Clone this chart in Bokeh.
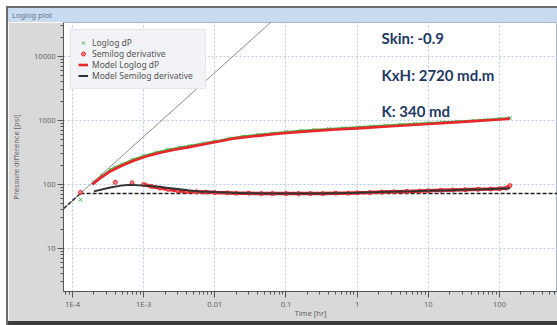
from bokeh.plotting import figure
from bokeh.models import (Range1d, FixedTicker, Legend, LegendItem, Label, Div, Spacer)
from bokeh.layouts import row, column
from bokeh.embed import file_html
from bokeh.resources import INLINE

# ---------------- data ----------------
t_dp = [1.3e-4, 2.0e-4, 2.6e-4, 3.4e-4, 4.0e-4, 5.0e-4, 7.0e-4, 1.0e-3, 1.5e-3, 2.2e-3,
        3.2e-3, 4.5e-3, 7e-3, 0.01, 0.016, 0.025, 0.04, 0.065, 0.1, 0.16,
        0.25, 0.4, 0.65, 1, 1.6, 2.5, 4, 6.5, 10, 16,
        25, 40, 65, 100, 140]
dp = [58, 108, 136, 170, 186, 208, 244, 280, 316, 348,
      378, 402, 440, 472, 525, 565, 598, 630, 660, 690,
      715, 738, 762, 782, 810, 835, 862, 890, 915, 940,
      965, 990, 1025, 1065, 1095]

t_der = [1.3e-4, 4.0e-4, 6.9e-4, 1.0e-3, 1.3e-3, 1.7e-3, 2.2e-3, 3e-3, 4e-3, 5.5e-3,
         7.5e-3, 0.01, 0.015, 0.02, 0.03, 0.045, 0.065, 0.1, 0.15, 0.22,
         0.33, 0.5, 0.75, 1, 1.5, 2.2, 3.3, 5, 7.5, 10,
         15, 22, 33, 50, 75, 100, 125, 140]
der = [75, 108, 106, 100, 93, 88, 84, 80, 78, 77,
       76, 75, 74, 73, 73, 72, 72, 72, 72, 72,
       72, 73, 73, 74, 75, 76, 77, 78, 79, 80,
       81, 82, 83, 84, 85, 86, 88, 96]

t_model = [1.9e-4, 2.5e-4, 3.4e-4, 5e-4, 7.2e-4, 1.1e-3, 1.7e-3, 2.8e-3, 4.2e-3, 8e-3,
           0.018, 0.04, 0.083, 0.2, 0.5, 1, 3, 10, 30, 100, 140]
p_model = [100, 128, 160, 198, 235, 275, 314, 352, 380, 438,
           520, 575, 625, 675, 722, 752, 815, 880, 950, 1035, 1065]

t_mder = [2.0e-4, 3.4e-4, 4.8e-4, 6.5e-4, 1.0e-3, 1.5e-3, 2.1e-3, 3e-3, 4.2e-3, 6e-3,
          0.01, 0.018, 0.029, 0.05, 0.076, 0.15, 0.3, 0.6, 1, 2,
          3, 6, 10, 20, 30, 60, 100, 140]
mder = [78, 90, 96, 99, 96, 93, 89, 85, 81, 78,
        76, 74, 73, 72.5, 72, 72, 72.5, 73.5, 74.5, 76,
        77, 78.5, 80, 81.5, 83, 84.5, 86, 87]

stab_level = 72
stab_t = [1.3e-4, 700]
wbs_coef = 5.6e5
wbs_t = [7.5e-5, 0.07]
wbs_t_dark = [7.5e-5, 1.3e-4]

x_ticks = [1e-4, 1e-3, 0.01, 0.1, 1, 10, 100]
x_tick_labels = ["1E-4", "1E-3", "0.01", "0.1", "1", "10", "100"]
y_ticks = [10, 100, 1000, 10000]
y_tick_labels = ["10", "100", "1000", "10000"]

annotations = ["Skin: -0.9", "KxH: 2720 md.m", "K: 340 md"]

# ---------------- figure ----------------
p = figure(frame_width=494, frame_height=269, x_axis_type="log", y_axis_type="log",
           x_range=Range1d(10 ** -4.126, 10 ** 2.815),
           y_range=Range1d(10 ** 0.328, 10 ** 4.531),
           output_backend="svg", toolbar_location=None,
           min_border_left=55, min_border_right=0, min_border_top=0, min_border_bottom=30,
           border_fill_color="#d9d9d9", background_fill_color="white",
           outline_line_color="#a9b6c4")
p.margin = 0

x_minor = [k * 10.0 ** e for e in range(-5, 3) for k in range(2, 10)]
y_minor = [k * 10.0 ** e for e in range(0, 5) for k in range(2, 10)]
p.xaxis.ticker = FixedTicker(ticks=x_ticks, minor_ticks=x_minor)
p.yaxis.ticker = FixedTicker(ticks=y_ticks, minor_ticks=y_minor)
p.xaxis.major_label_overrides = {v: s for v, s in zip(x_ticks, x_tick_labels)}
p.yaxis.major_label_overrides = {v: s for v, s in zip(y_ticks, y_tick_labels)}

for ax in (p.xaxis[0], p.yaxis[0]):
    ax.axis_line_color = "#555555"
    ax.major_tick_line_color = "#555555"
    ax.minor_tick_line_color = "#555555"
    ax.major_tick_in = 0
    ax.major_tick_out = 6
    ax.minor_tick_in = 0
    ax.minor_tick_out = 3
    ax.major_label_text_font = "Noto Sans"
    ax.major_label_text_font_size = "7.5px"
    ax.major_label_text_color = "#666666"
    ax.major_label_standoff = 2
    ax.axis_label_text_font = "Noto Sans"
    ax.axis_label_text_font_size = "7.5px"
    ax.axis_label_text_font_style = "normal"
    ax.axis_label_text_color = "#666666"

p.xaxis.major_label_standoff = 1
p.xaxis.axis_label = "Time [hr]"
p.xaxis.axis_label_standoff = -4
p.yaxis.axis_label = "Pressure difference [psi]"
p.yaxis.axis_label_standoff = 10

for g in (p.xgrid[0], p.ygrid[0]):
    g.grid_line_color = "#b9c8e6"
    g.grid_line_dash = "2 2"
    g.grid_line_width = 1

p.line(wbs_t, [wbs_coef * t for t in wbs_t], line_color="#8a8a8a", line_width=1)
p.line(wbs_t_dark, [wbs_coef * t for t in wbs_t_dark], line_color="#333333",
       line_width=1.5, line_dash="4 2")
p.line(stab_t, [stab_level, stab_level], line_color="#222222", line_width=1.5, line_dash="4 2")

p.line(t_dp[1:], dp[1:], line_color="#46b446", line_width=2)
r_dp = p.scatter(t_dp, dp, marker="x", size=5, line_color="#46b446", line_width=1)
r_model = p.line(t_model, p_model, line_color="#e8262b", line_width=2.6)

p.line(t_der[3:], der[3:], line_color="#e8262b", line_width=3.5)
r_der = p.scatter(t_der, der, marker="circle", size=4, line_color="#e8262b",
                  fill_color="#ef6a6a", fill_alpha=0.8, line_width=1)
r_mder = p.line(t_mder, mder, line_color="#333333", line_width=2)

legend = Legend(items=[
    LegendItem(label="Loglog dP", renderers=[r_dp]),
    LegendItem(label="Semilog derivative", renderers=[r_der]),
    LegendItem(label="Model Loglog dP", renderers=[r_model]),
    LegendItem(label="Model Semilog derivative", renderers=[r_mder]),
], location=(7, 202))
legend.background_fill_color = "#f1f3f6"
legend.background_fill_alpha = 1
legend.border_line_color = "#d5dbe3"
legend.label_text_font = "Noto Sans"
legend.label_text_font_size = "8.5px"
legend.label_text_color = "#555555"
legend.glyph_width = 10
legend.glyph_height = 11
legend.label_height = 11
legend.label_width = 106
legend.padding = 7
legend.spacing = 0
legend.margin = 0
legend.label_standoff = 4
p.add_layout(legend, "center")

ann_x = 2.2
ann_y = [19500, 5230, 1400]
for txt, yy in zip(annotations, ann_y):
    p.add_layout(Label(x=ann_x, y=yy, text=txt, text_font="Lato", text_font_style="bold",
                       text_font_size="15px", text_color="#1f3864", text_baseline="middle"))

top_border = Div(width=549, height=2, margin=0, styles={"background-color": "#6b6b6b"})
header = Div(text="Loglog plot", width=549, height=14, margin=0,
             styles={"background-color": "#c9dbee", "color": "#5a7490", "font-size": "7.5px",
                     "font-family": "Noto Sans", "padding-left": "4px", "line-height": "14px",
                     "box-sizing": "border-box"})
bottom_border = Div(width=549, height=4, margin=0, styles={"background-color": "#3d3d3d"})
left_border = Div(width=2, height=319, margin=0, styles={"background-color": "#6b6b6b"})

layout = row(Spacer(width=6, height=325, margin=0),
             column(Spacer(width=2, height=6, margin=0), left_border, margin=0, spacing=0),
             column(Spacer(width=549, height=6, margin=0), top_border, header, p, bottom_border,
                    margin=0, spacing=0),
             width=557, height=325, margin=0, spacing=0,
             styles={"overflow": "hidden"})

open("out.html", "w").write(file_html(layout, INLINE))
